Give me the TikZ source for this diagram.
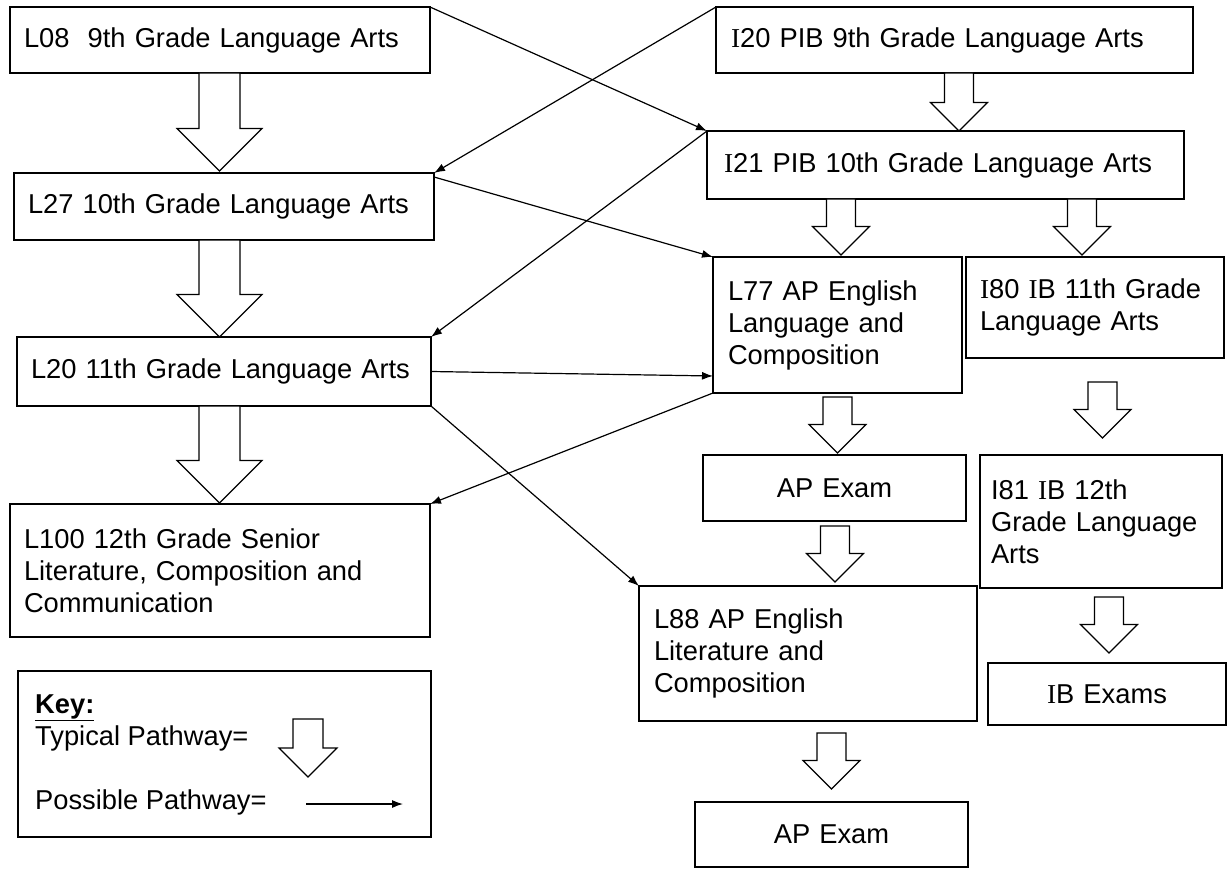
\documentclass[tikz,border=0pt]{standalone}
\usepackage{fontspec}
\setmainfont{Liberation Sans}
\newfontfamily\serifI{Liberation Serif}
\usepackage{tikz}
\usetikzlibrary{arrows.meta}

\newcommand{\rI}{{\serifI I}}

\begin{document}
\begin{tikzpicture}[
    x=1pt, y=-1pt,
    font=\fontsize{27.3}{32}\selectfont,
    block/.style={rectangle, draw, line width=2pt, outer sep=0pt, inner xsep=14pt, inner ysep=0pt, anchor=north west, align=left},
    exam/.style={block, align=center},
    keytext/.style={anchor=base west, inner sep=0pt},
    line/.style={draw, line width=1.2pt, -{Latex[length=11pt,width=8pt]}},
    pathway/.style={draw, line width=1.2pt, fill=white, line join=miter}
]
\useasboundingbox (0,0) rectangle (1231,869);

% left column
\node [block, text width=392pt, minimum height=66pt] (l08) at (10,7) {L08\ \ 9th Grade Language Arts};
\node [block, text width=392pt, minimum height=67pt] (l27) at (14,173) {L27 10th Grade Language Arts};
\node [block, text width=386pt, minimum height=69pt] (l20) at (17,337) {L20 11th Grade Language Arts};
\node [block, text width=392pt, minimum height=133pt] (l100) at (10,504) {L100 12th Grade Senior\\Literature, Composition and\\Communication};

% right columns
\node [block, inner xsep=15pt, text width=447pt, minimum height=66pt] (i20) at (716,7) {\rI20 PIB 9th Grade Language Arts};
\node [block, inner xsep=17pt, text width=443pt, minimum height=68pt] (i21) at (707,131) {\rI21 PIB 10th Grade Language Arts};
\node [block, inner xsep=15pt, text width=219pt, minimum height=136pt] (l77) at (713,257) {L77 AP English\\Language and\\Composition};
\node [block, text width=230pt, minimum height=101pt] (i80) at (966,257) {\rI80 \rI B 11th Grade\\Language Arts};
\node [exam, text width=235pt, minimum height=66pt] (ap1) at (703,455) {AP Exam};
\node [block, inner xsep=11pt, text width=220pt, minimum height=133pt] (i81) at (980,455) {I81 \rI B 12th\\Grade Language\\Arts};
\node [block, inner xsep=15pt, text width=308pt, minimum height=135pt] (l88) at (639,586) {L88 AP English\\Literature and\\Composition};
\node [exam, text width=210pt, minimum height=62pt] (ibx) at (988,663) {\rI B Exams};
\node [exam, text width=245pt, minimum height=65pt] (ap2) at (695,802) {AP Exam};

% key
\node [block, line width=1.5pt, minimum width=413pt, minimum height=166pt] (key) at (18,671) {};
\node [keytext] (keyhead) at (35,713) {\underline{\textbf{Key:}}};
\node [keytext] (typical) at (35,745) {Typical Pathway=};
\node [keytext] (possible) at (35,809) {Possible Pathway=};
\coordinate (k1) at (306,804);
\coordinate (k2) at (403,804);

% typical pathways
\foreach \ax/\ay/\az/\sw/\hw in {219.5/73/171/20.5/42.5, 219.5/240/337/20.5/42.5, 219.5/406/503/20.5/42.5,
    959/73/131/14.5/28.5, 841/199/255/14.5/28.5, 1082/199/255/14.5/28.5, 837.5/397/453/14.5/28.5,
    1102.5/382/438/14.5/28.5, 835/526/582/14.5/28.5, 831.5/733/789/14.5/28.5, 1109/597/653/14.5/28.5,
    308/719/777/15/29}
  \path [pathway] ({\ax-\sw},\ay) -- ({\ax+\sw},\ay) -- ({\ax+\sw},{\az-\hw}) -- ({\ax+\hw},{\az-\hw})
    -- (\ax,\az) -- ({\ax-\hw},{\az-\hw}) -- ({\ax-\sw},{\az-\hw}) -- cycle;

% possible pathways
\path [line] (l08.north east) -- (i21.north west);
\path [line] (i20.north west) -- (l27.north east);
\path [line] ([yshift=-4pt]l27.north east) -- (l77.north west);
\path [line] (i21.north west) -- (l20.north east);
\path [line] (l20.east) -- ([yshift=-51pt]l77.west);
\path [line] (l77.south west) -- (l100.north east);
\path [line] (l20.south east) -- (l88.north west);
\path [line] (k1) -- (k2);

\end{tikzpicture}
\end{document}
